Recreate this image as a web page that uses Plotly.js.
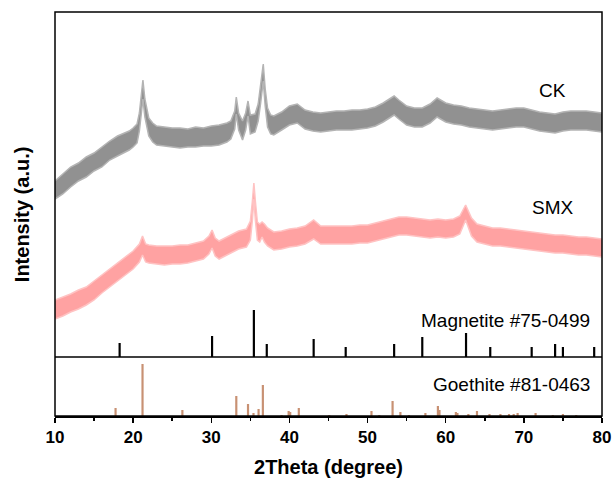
<!DOCTYPE html>
<html>
<head>
<meta charset="utf-8">
<script src="https://cdn.plot.ly/plotly-3.0.1.min.js"></script>
<style>html,body{margin:0;padding:0;background:#fff;}#chart{width:614px;height:481px;}</style>
</head>
<body>
<div id="chart"></div>
<script>
// CK pattern: noise band (lower / upper edge, a.u.)
const ckX = [10,11,12,13,14,15,16,17,18,19,19.5,20,20.5,20.8,21.0,21.25,21.5,21.8,22,22.5,23,24,25,26,27,28,29,30,31,32,32.5,33,33.2,33.5,34,34.4,34.7,35,35.6,36,36.3,36.65,36.9,37.2,37.6,38,39,40,41,42,43,44,45,46,47,48,49,50,51,52,53,53.4,54,55,56,57,58,58.9,60,61,62,63,64,65,66,67,68,69,70,71,72,73,74,75,76,77,78,79,80];
const ckLow = [158,163,170,176,180,186,190,197,201,205,207,210,214,226,240,258,240,226,221,215,212,211,210,209,210,210,211,211,212,215,218,228,243,227,217,227,241,223,225,236,253,276,251,230,223,222,227,232,234,228,226,225,226,227,227,227,228,229,231,235,240,242,238,232,230,230,234,240,235,233,232,230,229,228,227,228,229,230,230,228,226,225,224,226,227,227,227,226,225];
const ckHigh = [176,183,190,194,200,204,210,216,221,224,226,229,233,244,258,277,258,244,239,234,231,230,229,229,228,230,229,231,232,234,236,246,260,244,236,244,256,242,243,253,270,293,268,249,242,241,245,251,253,247,245,244,245,246,246,247,247,248,250,254,259,261,257,251,249,249,253,259,254,252,251,249,248,247,246,247,248,249,249,247,245,244,243,245,246,246,246,245,244];

// SMX pattern
const smxX = [10,11,12,13,14,15,16,17,18,19,20,20.8,21.2,21.6,22,23,24,25,26,27,28,29,29.7,30.1,30.5,31,32,33,33.5,34.5,35,35.25,35.45,35.65,35.9,36.2,36.5,36.8,37.2,38,39,40,41,42,43.1,44,45,46,47,48,49,50,51,52,53,54,55,56,57,58,59,60,61,61.8,62.55,63.3,64,65,66,67,68,69,70,71,72,73,74,75,76,77,78,79,80];
const smxLow = [38,41,45,48,52,57,64,70,76,82,88,95,102,95,94,93,92,93,93,94,96,98,103,109,101,98,102,106,108,110,117,136,158,136,117,115,120,115,111,107,108,110,111,113,118,113,113,113,113,113,114,114,116,118,120,122,122,121,120,119,120,119,120,123,137,121,115,113,111,111,110,109,108,107,106,105,104,104,103,102,102,101,100];
const smxHigh = [57,60,63,67,70,76,82,88,94,100,106,113,121,113,112,111,111,111,112,112,114,116,121,127,119,116,120,124,126,128,136,155,174,155,135,133,135,133,129,125,126,128,129,131,137,131,131,131,131,131,132,132,134,136,138,140,140,139,138,137,138,137,138,141,152,139,133,131,129,129,128,127,126,125,124,123,122,122,121,120,120,119,118];

// Magnetite #75-0499 reference lines
const magX = [18.27,30.1,35.45,37.1,43.1,47.2,53.4,57.0,62.6,65.7,71.0,74.0,75.0,79.0];
const magI = [14,21,47,13,18,10,13,20,24,10,10,13,10,10];

// Goethite #81-0463 reference lines
const goeX = [17.75,21.2,26.3,33.2,34.7,35.4,36.05,36.6,39.0,39.9,40.1,41.2,45.1,47.3,50.5,51.5,53.2,54.2,55.3,57.4,59.0,59.2,61.3,61.5,62.9,64.0,65.6,67.0,68.1,68.7,69.2,71.5,73.7,75.0,76.7];
const goeI = [8,52,6,20,12,3,7,31,1,5,4,8,1,2,5,1,15,4,1,3,10,6,4,3,2,5,2,2,2,2,3,3,1,2,1];

const xTicks = [10,20,30,40,50,60,70,80];
const labels = {ck:'CK', smx:'SMX', mag:'Magnetite #75-0499', goe:'Goethite #81-0463'};

const FONT = 'Liberation Sans, Arial, sans-serif';
const GRAY_FILL = 'rgb(145,145,145)', GRAY_EDGE = 'rgb(180,180,180)';
const PINK_FILL = 'rgb(255,162,162)', PINK_EDGE = 'rgb(255,195,195)';

const traces = [
  {x: ckX, y: ckLow, type:'scatter', mode:'lines', line:{color:GRAY_EDGE, width:1.5}, xaxis:'x', yaxis:'y', hoverinfo:'skip'},
  {x: ckX, y: ckHigh, type:'scatter', mode:'lines', line:{color:GRAY_EDGE, width:1.5}, fill:'tonexty', fillcolor:GRAY_FILL, xaxis:'x', yaxis:'y', hoverinfo:'skip'},
  {x: smxX, y: smxLow, type:'scatter', mode:'lines', line:{color:PINK_EDGE, width:1.5}, xaxis:'x', yaxis:'y', hoverinfo:'skip'},
  {x: smxX, y: smxHigh, type:'scatter', mode:'lines', line:{color:PINK_EDGE, width:1.5}, fill:'tonexty', fillcolor:PINK_FILL, xaxis:'x', yaxis:'y', hoverinfo:'skip'},
  {x: magX, y: magI, type:'bar', width:0.28, marker:{color:'#000', line:{width:0}}, xaxis:'x', yaxis:'y'},
  {x: goeX, y: goeI, type:'bar', width:0.28, marker:{color:'rgb(200,145,115)', line:{width:0}}, xaxis:'x', yaxis:'y2'}
];

const split = 59/404;
const layout = {
  width:614, height:481,
  margin:{l:55, r:12, t:12, b:65},
  paper_bgcolor:'#fff', plot_bgcolor:'#fff',
  showlegend:false,
  font:{family:FONT, color:'#000'},
  barmode:'overlay',
  xaxis:{
    anchor:'y2', range:[10,80], tickvals:xTicks, ticktext:xTicks.map(String),
    ticks:'outside', ticklen:5, tickwidth:1.5, tickcolor:'#000',
    minor:{ticks:'outside', ticklen:3, tickwidth:1.5, tickcolor:'#000', dtick:5, tick0:5},
    showline:true, linewidth:1.5, linecolor:'#000', showgrid:false, zeroline:false,
    tickfont:{size:17, weight:'bold', family:FONT},
    title:{text:'2Theta (degree)', font:{size:20, weight:'bold', family:FONT}, standoff:14}
  },
  yaxis:{domain:[split,1], range:[0,345], showticklabels:false, ticks:'', showgrid:false, zeroline:false, showline:false, anchor:'x'},
  yaxis2:{domain:[0,split], range:[0,59], showticklabels:false, ticks:'', showgrid:false, zeroline:false, showline:false, anchor:'x'},
  shapes:[
    {type:'rect', xref:'paper', yref:'paper', x0:0, x1:1, y0:0, y1:1, line:{color:'#000', width:1.5}},
    {type:'line', xref:'paper', yref:'paper', x0:0, x1:1, y0:split, y1:split, line:{color:'#000', width:1.5}}
  ],
  annotations:[
    {text:'Intensity (a.u.)', xref:'paper', yref:'paper', x:-0.06, y:0.5, textangle:-90, showarrow:false, xanchor:'center', yanchor:'middle', font:{size:20, weight:'bold', family:FONT}},
    {text:labels.ck, xref:'x', yref:'y', x:73.7, y:267, showarrow:false, font:{size:19, family:FONT}},
    {text:labels.smx, xref:'x', yref:'y', x:73.7, y:150, showarrow:false, font:{size:19, family:FONT}},
    {text:labels.mag, xref:'x', yref:'y', x:67.6, y:37, showarrow:false, font:{size:19, family:FONT}},
    {text:labels.goe, xref:'x', yref:'y2', x:68.4, y:32, showarrow:false, font:{size:19, family:FONT}}
  ]
};

Plotly.newPlot('chart', traces, layout, {staticPlot:true, displayModeBar:false});
</script>
</body>
</html>
